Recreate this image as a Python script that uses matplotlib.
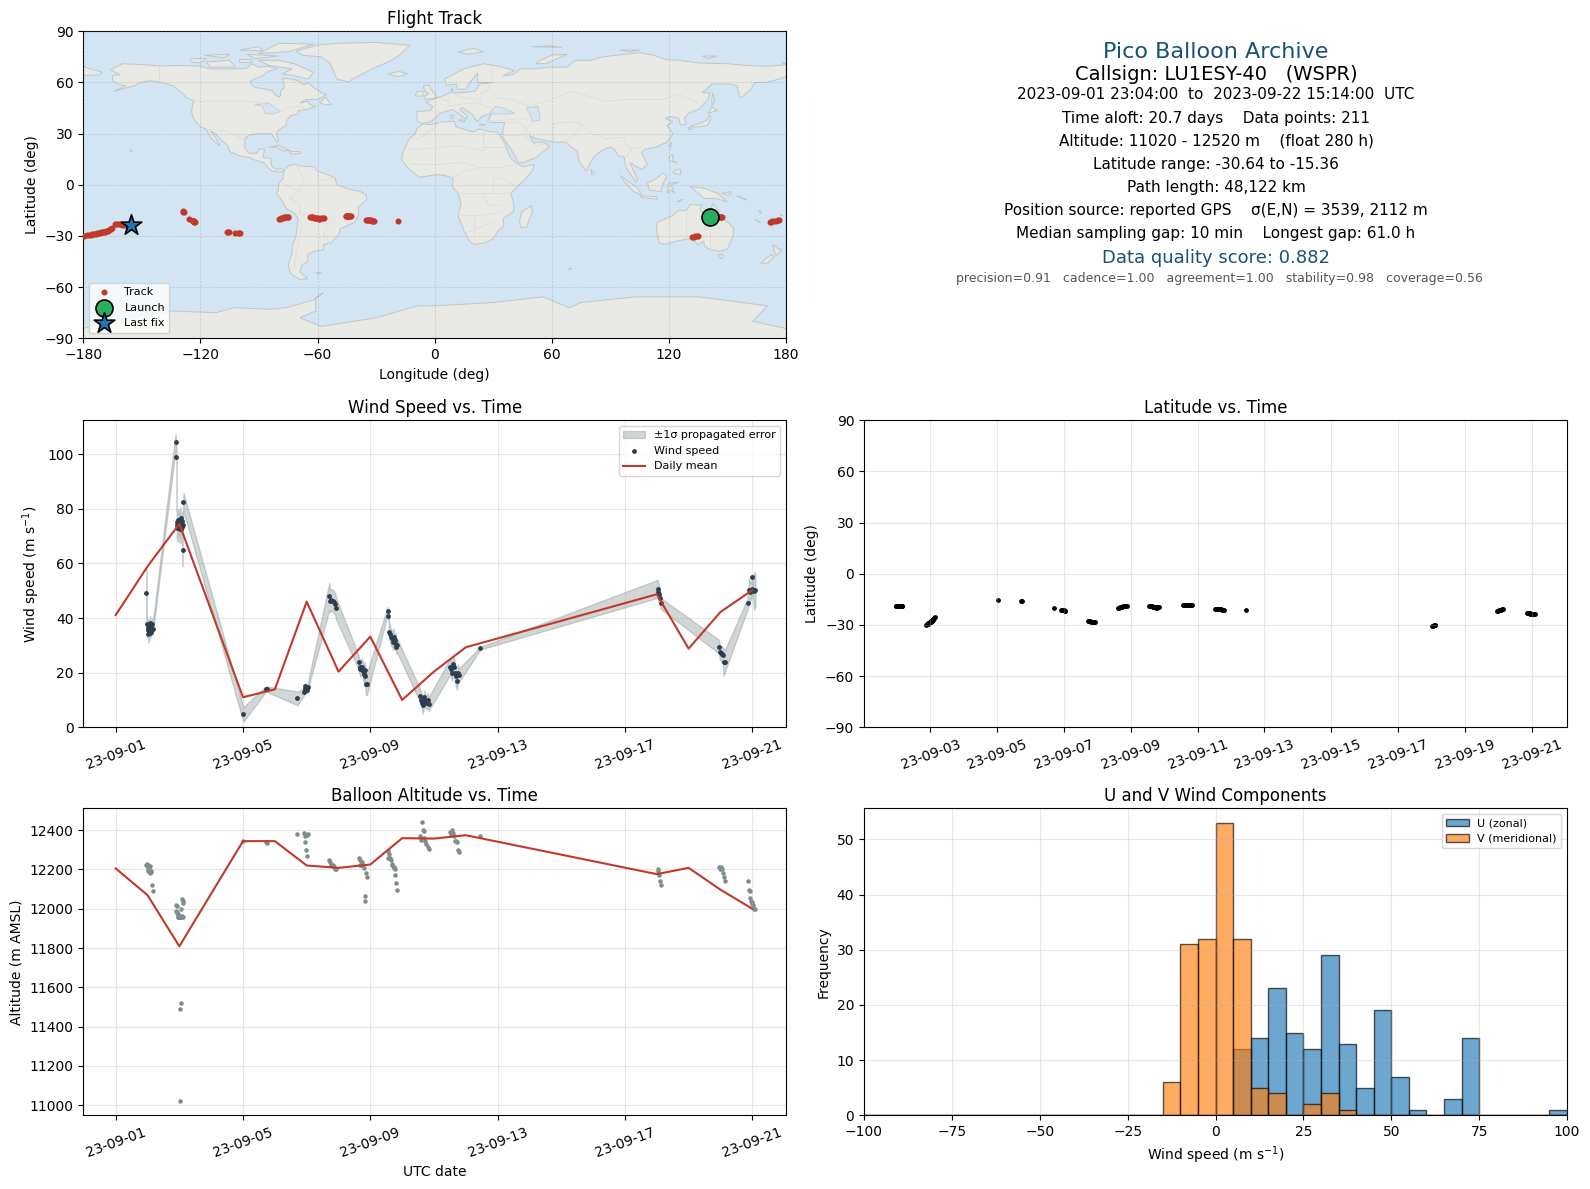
from datetime import datetime

import matplotlib
matplotlib.use('Agg')
import matplotlib.dates as mdates
import numpy as np
from matplotlib import pyplot as plt

# fixes, one line per burst of reports (days since 2023-09-01 00:00 UTC)
fix_days = [
    0.96, 0.98, 1.00, 1.01, 1.02, 1.03, 1.05, 1.06, 1.07, 1.08, 1.10, 1.12, 1.15, 1.16,
    1.88, 1.91, 1.92, 1.93, 1.94, 1.95, 1.96, 1.97, 1.98, 1.99, 2.00, 2.01, 2.02, 2.02, 2.03, 2.04, 2.04, 2.05, 2.06, 2.07, 2.09, 2.10, 2.11, 2.13,
    4.01,
    4.71, 4.74,
    5.71,
    5.92, 5.94, 5.96, 5.98, 6.00, 6.02, 6.03,
    6.71, 6.74, 6.78, 6.82, 6.86, 6.90, 6.92,
    7.63, 7.66, 7.69, 7.71, 7.74, 7.77, 7.80, 7.82, 7.82, 7.86, 7.89,
    8.54, 8.57, 8.60, 8.62, 8.65, 8.67, 8.69, 8.71, 8.73, 8.75, 8.77, 8.79, 8.82, 8.84,
    9.57, 9.60, 9.62, 9.65, 9.68, 9.70, 9.72, 9.76, 9.80, 9.83,
    10.51, 10.54, 10.57, 10.60, 10.63, 10.66, 10.69, 10.72, 10.75, 10.78,
    11.46,
    17.03, 17.05, 17.07, 17.10, 17.12,
    18.96, 18.98, 19.01, 19.04, 19.07, 19.10, 19.13,
    19.86, 19.89, 19.92, 19.94, 19.96, 19.98, 20.00, 20.02, 20.06, 20.10,
]
wind_speed = [
    49.0, 38.0, 36.0, 35.5, 37.0, 34.0, 35.0, 36.5, 34.4, 38.3, 35.0, 37.0, 38.0, 36.0,
    104.5, 99.0, 74.0, 75.0, 73.0, 76.0, 73.5, 74.5, 75.0, 73.0, 76.0, 74.0, 72.5, 73.5, 75.0, 76.5, 74.0, 72.5, 73.0, 75.5, 73.5, 65.0, 74.0, 82.5,
    4.7,
    13.9, 14.0,
    10.6,
    13.0, 14.0, 15.0, 14.5, 13.5, 14.0, 14.8,
    47.9, 46.2, 46.6, 46.4, 45.7, 45.0, 43.6,
    23.8, 22.2, 21.5, 21.8, 22.2, 20.5, 19.5, 18.6, 21.0, 15.9, 15.8,
    42.5, 40.7, 35.0, 34.2, 33.0, 32.6, 32.6, 31.4, 33.0, 31.6, 30.8, 32.0, 29.3, 30.0,
    11.5, 10.0, 9.0, 8.0, 9.5, 11.0, 10.0, 9.0, 10.0, 8.5,
    22.2, 21.2, 20.0, 23.2, 22.0, 20.0, 18.6, 17.0, 20.0, 19.0,
    29.0,
    50.7, 49.7, 48.8, 47.3, 45.4,
    29.5, 27.4, 27.2, 26.7, 26.5, 23.8, 24.0,
    45.4, 50.3, 49.7, 50.3, 49.8, 50.6, 55.0, 50.2, 50.0, 50.2,
]
wind_sigma = [
    9.0, 2.5, 2.5, 2.5, 2.5, 3.0, 2.5, 2.5, 2.5, 2.5, 2.0, 2.5, 2.0, 2.0,
    3.0, 2.5, 5.0, 5.0, 5.0, 4.0, 5.0, 4.0, 4.0, 5.0, 4.0, 4.0, 5.0, 4.0, 5.0, 4.0, 4.0, 5.0, 4.0, 3.5, 5.0, 6.0, 4.0, 3.3,
    2.7,
    1.0, 1.0,
    2.5,
    1.2, 1.2, 1.2, 1.2, 1.2, 1.2, 1.2,
    5.0, 4.0, 4.0, 4.0, 4.0, 4.0, 4.0,
    2.5, 2.5, 3.0, 3.0, 3.0, 3.0, 3.0, 3.5, 3.0, 4.0, 4.0,
    1.5, 1.5, 3.0, 3.0, 3.0, 3.0, 3.0, 3.0, 3.0, 3.0, 2.5, 2.5, 2.5, 2.5,
    2.5, 2.5, 2.5, 3.0, 2.5, 2.5, 2.5, 2.5, 2.5, 2.5,
    3.0, 3.0, 3.0, 3.0, 3.0, 3.5, 3.5, 3.3, 3.0, 2.5,
    0.5,
    3.3, 3.0, 3.0, 2.5, 2.0,
    2.5, 2.5, 2.5, 3.0, 3.0, 4.9, 4.0,
    2.0, 4.0, 4.0, 3.0, 3.0, 3.0, 1.0, 3.0, 7.0, 6.0,
]
altitude = [
    12225, 12230, 12210, 12200, 12225, 12190, 12195, 12205, 12180, 12215, 12185, 12190, 12121, 12091,
    12021, 11987, 12015, 11985, 11979, 11975, 11960, 11958, 11958, 11965, 11960, 11958, 11489, 11020, 11965, 11520, 11958, 11960, 11999, 11965, 12050, 12040, 11958, 12030,
    12344,
    12340, 12335,
    12381,
    12386, 12372, 12340, 12298, 12267, 12375, 12380,
    12247, 12240, 12225, 12220, 12210, 12203, 12200,
    12259, 12247, 12225, 12220, 12236, 12225, 12208, 12067, 12038, 12182, 12162,
    12293, 12259, 12276, 12259, 12247, 12225, 12230, 12218, 12208, 12213, 12200, 12174, 12131, 12095,
    12369, 12350, 12442, 12403, 12395, 12360, 12344, 12327, 12316, 12305,
    12390, 12378, 12403, 12385, 12369, 12344, 12344, 12338, 12301, 12290,
    12369,
    12204, 12190, 12172, 12143, 12120,
    12213, 12200, 12211, 12200, 12180, 12162, 12142,
    12142, 12097, 12088, 12055, 12040, 12032, 12025, 12018, 12000, 11998,
]
latitude = [
    -18.8, -18.8, -18.7, -18.8, -18.9, -18.8, -18.8, -18.7, -18.8, -18.9, -18.8, -18.8, -18.7, -18.8,
    -29.8, -29.5, -29.3, -29.2, -29.0, -28.9, -28.7, -28.6, -28.4, -28.3, -28.1, -28.0, -27.9, -27.8, -27.7, -27.5, -27.4, -27.2, -27.0, -26.8, -26.4, -26.1, -25.8, -25.3,
    -15.3,
    -15.7, -16.0,
    -20.0,
    -21.0, -21.2, -21.3, -21.4, -21.5, -21.6, -21.7,
    -27.6, -27.6, -27.9, -28.1, -28.2, -28.4, -28.4,
    -20.0, -19.8, -19.7, -19.6, -19.3, -19.1, -19.0, -18.9, -18.8, -18.7, -18.6,
    -18.6, -18.7, -18.9, -19.1, -19.2, -19.4, -19.5, -19.6, -19.7, -19.8, -19.8, -19.7, -19.6, -19.4,
    -18.2, -18.3, -18.2, -18.1, -18.2, -18.2, -18.1, -18.2, -18.2, -18.3,
    -20.5, -20.5, -20.6, -20.6, -20.5, -20.7, -20.9, -21.1, -21.3, -21.3,
    -21.1,
    -30.5, -30.4, -30.2, -30.0, -29.9,
    -21.7, -21.6, -21.4, -21.2, -21.0, -20.7, -20.5,
    -22.7, -22.8, -23.0, -23.1, -23.3, -23.4, -23.5, -23.5, -23.5, -23.7,
]
longitude = [
    141.0, 141.5, 142.0, 142.5, 143.0, 143.5, 144.0, 144.5, 145.0, 145.5, 146.0, 146.5, 146.8, 147.0,
    -179.5, -178.0, -177.0, -176.0, -175.5, -175.0, -174.0, -173.5, -173.0, -172.5, -172.0, -171.5, -171.0, -170.5, -170.0, -169.5, -169.0, -168.5, -168.0, -167.5, -167.0, -166.5, -166.0, -165.5,
    -129.0,
    -128.8, -128.5,
    -125.6,
    -124.0, -123.9, -123.8, -123.6, -123.4, -123.2, -123.0,
    -106.5, -106.0, -105.5, -102.5, -100.5, -100.0, -99.5,
    -79.5, -79.0, -78.5, -78.0, -77.5, -77.0, -76.5, -76.0, -75.5, -75.2, -75.0,
    -64.0, -63.5, -63.0, -62.5, -62.0, -61.5, -61.0, -60.5, -60.0, -59.5, -59.0, -58.0, -57.0, -56.6,
    -45.5, -45.2, -45.0, -44.7, -44.5, -44.2, -44.0, -43.7, -43.4, -43.0,
    -35.0, -34.6, -34.2, -33.8, -33.4, -33.0, -32.5, -32.0, -31.5, -31.0,
    -19.0,
    132.0, 132.7, 133.4, 134.2, 135.0,
    171.7, 172.2, 173.0, 174.0, 175.0, 175.8, 176.5,
    -164.0, -163.0, -162.0, -161.0, -160.0, -159.0, -158.0, -157.0, -156.2, -155.7,
]

# daily means
mean_days = [0, 1, 2, 4, 5, 6, 7, 8, 9, 10, 11, 17, 18, 19, 20]
mean_wind = [41.1, 58.9, 74.5, 11.0, 13.9, 46.0, 20.4, 33.2, 10.0, 20.4, 29.3, 48.7, 28.8, 42.2, 50.2]
mean_alt = [12205, 12069, 11809, 12344, 12344, 12220, 12208, 12225, 12359, 12357, 12374, 12176, 12208, 12097, 12000]

# histogram counts, 5 m/s bins
hist_edges = list(range(-100, 105, 5))
u_counts = [0] * 21 + [12, 14, 23, 15, 12, 29, 13, 5, 19, 7, 1, 0, 3, 14, 0, 0, 0, 0, 1]
v_counts = [0] * 17 + [6, 31, 32, 53, 32, 5, 4, 0, 2, 4, 1] + [0] * 12

header_lines = [
    'Time aloft: 20.7 days    Data points: 211',
    'Altitude: 11020 - 12520 m    (float 280 h)',
    'Latitude range: -30.64 to -15.36',
    'Path length: 48,122 km',
    'Position source: reported GPS    \u03c3(E,N) = 3539, 2112 m',
    'Median sampling gap: 10 min    Longest gap: 61.0 h',
]

# coarse coastlines, lon/lat
land_polys = [
    # North America
    [(-166,67.5),(-160,71),(-150,70.5),(-141,69.7),(-130,70),(-120,69.5),(-115,68),(-108,68),(-100,68),(-96,68.5),(-94,71),(-90,69),(-85,69.5),(-81,68),(-86,66),(-88,64),(-94.6,60.7),(-94,59),(-92,57),(-88,56.5),(-83,55),(-82,53),(-80,51.5),(-79,52),(-79,55),(-77,57),(-77.6,60.7),(-78,62.5),(-73,62),(-70,61),(-67,58.5),(-65,60),(-62,57),(-58,54),(-55.4,52.9),(-60,50),(-66,50),(-69,48),(-65,49),(-64,47),(-61,46),(-66,44),(-70,43.5),(-70,41.5),(-74,40.5),(-76,37),(-76,35),(-80,32),(-81,30),(-80,26),(-81,25),(-82.5,28),(-84,30),(-89,30),(-94,29.5),(-97,27.5),(-97.5,22),(-95,18.5),(-91,18.5),(-90,21),(-87,21),(-88,16),(-84,15.5),(-83.5,11),(-81,9),(-79,9.5),(-77,8.5),(-78,7.5),(-80,7.5),(-83,8),(-85.5,10),(-87.5,13),(-92,14.5),(-95,16),(-100,17),(-105,19.5),(-106,23),(-109,26),(-112.5,30),(-114.7,31.5),(-112,27),(-110,23),(-112,24.5),(-115,28),(-117,32.5),(-120.5,34.5),(-122.5,37.5),(-124,40),(-124.5,43),(-124,47),(-123,49),(-127,51),(-130,54.5),(-134,58),(-140,60),(-146,61),(-151,60),(-154,58),(-164.6,54.8),(-158,58),(-162,59),(-165,61),(-165,64),(-161,64.5)],
    # South America
    [(-77,8.5),(-75,11),(-72,12),(-68,11),(-62,10.5),(-60,8),(-55,6),(-51,4),(-50,0),(-44,-2.5),(-38,-4),(-35,-6),(-35,-9),(-39,-13),(-39,-18),(-41,-22),(-45,-24),(-48.5,-26),(-49,-29),(-53,-34),(-57,-35),(-57,-38),(-62,-39),(-65,-41),(-65,-45),(-68,-47),(-69,-51),(-65,-55),(-69,-55.5),(-74,-52),(-75,-47),(-73,-40),(-73,-36),(-71,-30),(-70,-20),(-71.5,-17),(-76,-14),(-79,-8),(-81,-5),(-80,-2.5),(-80,1),(-78,3),(-77.5,6)],
    # Africa
    [(-6,35.8),(-2,35.2),(3,36.8),(10,37.3),(11,34),(15,32.5),(20,31),(23,32.8),(29,31),(32,31),(34,28),(36,24),(37.5,19),(39.5,15),(43,12),(45,10.5),(51,12),(50,8),(47,4),(42,-1.5),(39,-5),(40.5,-11),(40.5,-15.5),(35,-20),(35.5,-24),(32.5,-27),(30,-31.5),(26,-34),(20,-35),(18,-33),(15,-27),(12,-18),(13.5,-11),(12,-5),(9,-1),(9.5,4),(5,5.5),(1,6),(-4,5),(-8,4.5),(-13,9),(-17,14.7),(-16,20),(-13,27),(-10,30),(-9,33)],
    # Eurasia
    [(-9,37),(-6,36),(-2,37),(0,39),(3,42),(6,43),(9,44),(12,42),(16,38.5),(17,40),(13,44),(14,45.5),(19,41.5),(22,37),(24,40),(26,41),(29,41),(27,37),(30,36.5),(36,36.5),(35,32),(34.5,28),(35,28),(39,21),(43,13),(45,13),(52,16),(59,22.5),(56,25),(52,25),(51,24),(48.5,29),(52,27),(57,26),(62,25),(67,25),(70,22),(73,20),(74,14),(77.5,8),(80,13),(82,17),(87,21),(90,22),(92,21),(94,17),(97,16.5),(98,10),(100,7),(103,1.5),(104,3),(100,13),(103,11),(106,9),(109,12),(106,19),(108,21),(113,22),(119,25),(122,30),(119,35),(122,37),(118,39),(121,40),(125,39),(126,35),(129,35.5),(128,39),(130,42),(135,44),(140,50),(141,54),(137,54),(142,59),(152,59),(155,58),(156,52),(157,51),(162,56),(164,60),(170,60),(178,62.5),(181,64),(181,70.5),(170,69.5),(160,70),(150,71),(135.7,71.4),(125,73),(118.6,73.4),(112,76),(105,77.5),(86,75),(80,73),(72,73),(68,69),(60,69),(50,68),(44,68),(40,64.5),(35,64),(41,67),(33,69.5),(25,71),(15,68),(5,62),(6,58.5),(11,59),(12,56),(16,56),(18,60),(22,65.5),(22,63),(22,60),(30,60),(23,59),(21,55),(14,54),(9,54),(9,57),(8,54),(4,52),(-1,50),(-4.5,48.5),(-1,46),(-2,43.5),(-9,43)],
    # Chukotka tip
    [(-181,64),(-172,64.5),(-170,66),(-178,68.5),(-181,70.5)],
    # Greenland and the Arctic islands
    [(-70.8,78.3),(-60,82),(-48.6,83),(-30,83.5),(-12.7,81.8),(-18,76),(-23,72.4),(-32,68),(-42,62),(-44.3,60.3),(-50,62),(-53.7,71.4),(-58,75),(-68,76)],
    [(-80,73),(-72,71),(-62,66),(-65,62),(-72,64),(-78,65),(-73,68),(-85,70),(-90,73)],
    [(-117,72),(-105,73),(-102,69),(-115,69)],
    [(-90,77),(-80,83),(-62,82.5),(-75,78)],
    [(-125,74),(-117,74),(-120,71.5),(-125,72)],
    [(-96,76.5),(-80,75.5),(-92,74)],
    [(-100,74),(-94,74),(-94,72),(-100,72)],
    [(-100,79),(-90,81),(-88,78.5)],
    [(-118,76),(-105,76.5),(-108,74.5)],
    [(-24,65),(-18,66.5),(-14,65),(-18,63.5),(-22,64)],
    [(12,78),(20,80),(25,78),(17,76.5)],
    [(52,71),(57,71),(68,76.5),(60,76),(54,73)],
    [(50,81),(60,81.5),(65,80.5)],
    [(95,79),(105,79),(100,78)],
    [(137,75.5),(145,75.5),(140,74)],
    [(178,71.5),(181,71),(180,71)],
    # Europe
    [(-5,50),(1,51),(0,53.5),(-2,56),(-3,58.5),(-6,58),(-5,55),(-3,53.5),(-5,52)],
    [(-10,52),(-6,52),(-6,55),(-9,54.5)],
    [(12.5,38),(15.5,38),(15,36.7)],
    [(8.3,41),(9.6,41),(9.5,39),(8.5,39)],
    [(23,35.5),(26,35.2),(24,35)],
    # Asia and the islands
    [(142,46),(143.5,50),(142.5,54),(142,50)],
    [(131,34),(136,34),(140,35),(141.5,39),(141,41),(139.5,38),(136,36),(132,35)],
    [(140,42),(145,43.5),(142,45.5)],
    [(130,32),(132,33),(130,33.5)],
    [(120,23),(121.5,25),(121,22)],
    [(120,16),(122,18),(122,14),(124,13),(120.5,14)],
    [(122,7),(126,6),(126,9),(123,8.5)],
    [(80,9),(82,7),(80.5,6)],
    [(95,5.5),(104,-2),(106,-6),(102,-4),(97,2)],
    [(105.5,-6.5),(114,-7),(114,-8.5),(106,-7.5)],
    [(109,1),(114,4),(117,7),(119,5),(117,1),(116,-4),(110,-3)],
    [(119,-5),(120,1),(125,1.5),(121,0),(123,-5),(121,-3)],
    [(131,-1),(138,-2),(145,-5),(150,-10),(144,-8),(138,-8),(134,-4)],
    [(124,-10),(127,-8.5),(125,-9.8)],
    [(147,-5),(152,-4),(151,-6)],
    [(155,-6.5),(160,-9),(158,-8)],
    [(166,-15),(167.5,-16),(167,-17)],
    # Australia and neighbours
    [(114,-22),(113.5,-26),(115,-34),(118,-35),(124,-33),(131,-31.5),(135,-35),(138,-33),(138,-35.5),(141,-38),(146,-39),(150,-37.5),(153,-30),(153,-25),(149,-21),(146,-19),(145.5,-15),(142.5,-11),(141,-16),(139,-17.5),(136,-15),(137,-12),(131,-11.5),(129,-15),(125,-15),(122,-18),(117,-20.5)],
    [(145,-41),(148,-41),(147,-43.5)],
    [(173,-35),(176,-37.5),(178,-38),(175,-41.5),(174,-39)],
    [(172.5,-41),(174,-42),(170.5,-46),(167,-46),(170,-43)],
    [(164,-20),(167,-22),(166,-22)],
    [(177,-17.5),(178.5,-18),(177.5,-18.3)],
    [(49.5,-12),(50,-16),(47,-25),(44,-25),(43.5,-21),(44.5,-16)],
    [(68.7,-49),(70.2,-49),(69.5,-49.7)],
    # Caribbean and small ones
    [(-85,22),(-80,23),(-74,20),(-78,20),(-81,22)],
    [(-74,19.5),(-69,19.5),(-69,18.3),(-74,18)],
    [(-59,48),(-56,51.5),(-53,47),(-56,47)],
    [(-156,21),(-155,20),(-156,19)],
    [(-61,-51.5),(-58,-51.5),(-59,-52.3)],
    # Antarctica
    [(-181,-84.5),(-158,-78),(-134,-74),(-112,-75),(-103,-72),(-85,-73),(-76,-72),(-62,-67.5),(-57,-63.4),(-61,-66),(-61,-74),(-69,-78),(-58,-83),(-30,-78),(-9,-71),(-0.8,-71),(30,-69),(55.4,-65.7),(69,-72),(75,-69),(103,-65.7),(135.6,-65.7),(170.6,-71),(163,-80),(181,-84.5),(181,-91),(-181,-91)],
]
water_polys = [
    [(28,41.5),(31,46),(35,45),(41,42),(36,41.5)],
    [(47,45),(53,46),(54,38),(50,37),(49,41)],
    [(-92,47),(-85,48),(-79,43),(-83,41.5),(-87,42),(-88,46)],
]
border_lines = [
    [(-123,49),(-95,49),(-89,48),(-83,46),(-79,43),(-75,45),(-70,46),(-67,45)],
    [(-141,69.7),(-141,60)],
    [(-117,32.5),(-106,31.5),(-97,26)],
    [(-71,12),(-67,2),(-70,-4),(-74,-8),(-69,-11),(-69,-17),(-58,-20),(-55,-25),(-57,-30),(-53,-34)],
    [(-70,-20),(-68,-24),(-71,-40),(-72,-50)],
    [(-78,1),(-70,-4)],
    [(-60,8),(-60,2),(-51,4)],
    [(-13,27),(-8,27),(-2,32),(3,37)],
    [(-17,21),(-6,21),(12,23),(25,20),(25,31)],
    [(25,22),(36,22)],
    [(-12,12),(2,12),(14,13),(24,10),(34,10),(42,12)],
    [(9,4),(15,8),(24,10)],
    [(12,-5),(30,-5),(40,-5)],
    [(12,-18),(24,-18),(34,-16)],
    [(20,-29),(20,-18)],
    [(30,-22),(16,-28)],
    [(24,-5),(28,-12),(34,-12)],
    [(30,-5),(30,4),(34,4),(42,-1)],
    [(-2,43.5),(3,42.5)],
    [(3,51),(7,49),(7,46),(13,47),(17,48),(22,48),(29,45)],
    [(9,54),(14,51),(24,50),(24,54),(28,56),(28,60)],
    [(30,60),(29,69)],
    [(30,51),(40,50),(48,46)],
    [(27,37),(44,39),(48,38)],
    [(36,36.5),(42,37),(46,34),(48.5,30)],
    [(35,29),(46,29),(52,23),(56,24)],
    [(61,25),(61,36),(72,37),(75,36)],
    [(48,46),(60,50),(70,55),(87,49),(98,50),(117,50),(125,53),(135,48)],
    [(67,25),(72,30),(75,36),(80,30),(88,27),(97,28),(98,24),(101,21),(106,22)],
    [(98,16),(101,21)],
    [(129,-15),(129,-31.5)],
    [(138,-16),(138,-26),(141,-26),(141,-38)],
]

start = mdates.date2num(datetime(2023, 9, 1))
fix_t = start + np.array(fix_days)
mean_t = start + np.array(mean_days)
wind = np.array(wind_speed)
sigma = np.array(wind_sigma)


def place(left, top, right, bottom):
    return fig.add_axes([left / W, 1 - bottom / H, (right - left) / W, (bottom - top) / H])


def date_axis(ax, tick_days, lim):
    ax.set_xticks(start + np.array(tick_days))
    ax.xaxis.set_major_formatter(mdates.DateFormatter('%y-%m-%d'))
    ax.tick_params(axis='x', rotation=20)
    ax.set_xlim(start + lim[0], start + lim[1])


W, H = 1590, 1189
fig = plt.figure(figsize=(W / 100, H / 100), dpi=100)

L1, R1 = 83.3, 786.0
L2, R2 = 864.0, 1567.0
PAD = 5

# map
ax = place(L1, 31.3, R1, 338.3)
ax.set_facecolor('#d3e5f2')
for poly in land_polys:
    xs, ys = zip(*poly)
    ax.fill(xs, ys, facecolor='#e8e8e4', edgecolor='#c1c7c9', linewidth=0.7, zorder=1)
for poly in water_polys:
    xs, ys = zip(*poly)
    ax.fill(xs, ys, facecolor='#d3e5f2', edgecolor='#c1c7c9', linewidth=0.5, zorder=1.1)
for line in border_lines:
    xs, ys = zip(*line)
    ax.plot(xs, ys, color='#dcdddb', linewidth=0.6, zorder=1.2)
ax.scatter(longitude, latitude, s=11, color='#c0392b', zorder=4, label='Track')
ax.scatter(longitude[0], latitude[0], s=150, color='#27ae60', edgecolor='black', linewidth=1.2, zorder=5, label='Launch')
ax.scatter(longitude[-1], latitude[-1], s=240, marker='*', color='#1f77b4', edgecolor='black', linewidth=1.2, zorder=5, label='Last fix')
ax.set_xlim(-180, 180)
ax.set_ylim(-90, 90)
ax.set_xticks(np.arange(-180, 181, 60))
ax.set_yticks(np.arange(-90, 91, 30))
ax.grid(alpha=0.3, linewidth=0.5, linestyle='--', color='#808080', zorder=2)
ax.set_axisbelow(False)
ax.set_xlabel('Longitude (deg)')
ax.set_ylabel('Latitude (deg)')
ax.set_title('Flight Track', pad=PAD)
ax.legend(loc='lower left', fontsize=8)

# header block
fig.text(1216, 52, 'Pico Balloon Archive', ha='center', va='center', fontsize=16, color='#1a5276')
fig.text(1216, 74.5, 'Callsign: LU1ESY-40   (WSPR)', ha='center', va='center', fontsize=14)
fig.text(1216, 94.5, '2023-09-01 23:04:00  to  2023-09-22 15:14:00  UTC', ha='center', va='center', fontsize=11)
for i, line in enumerate(header_lines):
    fig.text(1216, 118 + i * 23.1, line, ha='center', va='center', fontsize=11)
fig.text(1216, 258, 'Data quality score: 0.882', ha='center', va='center', fontsize=13, color='#1a5276')
fig.text(1219, 279, 'precision=0.91   cadence=1.00   agreement=1.00   stability=0.98   coverage=0.56',
         ha='center', va='center', fontsize=9, color='#555555')
for t in fig.texts:
    x, y = t.get_position()
    t.set_position((x / W, 1 - y / H))

# wind speed
ax = place(L1, 420.3, R1, 727.3)
ax.fill_between(fix_t, wind - sigma, wind + sigma, color='#7f8c8d', alpha=0.35, label='\u00b11\u03c3 propagated error')
ax.scatter(fix_t, wind, s=6, color='#2c3e50', label='Wind speed', zorder=3)
ax.plot(mean_t, mean_wind, color='#c0392b', linewidth=1.5, label='Daily mean', zorder=4)
date_axis(ax, [0, 4, 8, 12, 16, 20], (-1.018, 21.06))
ax.set_ylim(0, 112.4)
ax.grid(alpha=0.3)
ax.set_ylabel('Wind speed (m s$^{-1}$)')
ax.set_title('Wind Speed vs. Time', pad=PAD)
ax.legend(loc='upper right', fontsize=8)

# latitude
ax = place(L2, 420.3, R2, 727.3)
ax.scatter(fix_t, latitude, s=6, color='black')
date_axis(ax, [2, 4, 6, 8, 10, 12, 14, 16, 18, 20], (0.01, 21.06))
ax.set_ylim(-90, 90)
ax.set_yticks(np.arange(-90, 91, 30))
ax.grid(alpha=0.3)
ax.set_ylabel('Latitude (deg)')
ax.set_title('Latitude vs. Time', pad=PAD)

# altitude
ax = place(L1, 808.3, R1, 1115.3)
ax.scatter(fix_t, altitude, s=5, color='#7f8c8d')
ax.plot(mean_t, mean_alt, color='#c0392b', linewidth=1.5)
date_axis(ax, [0, 4, 8, 12, 16, 20], (-1.018, 21.06))
ax.set_ylim(10949, 12511)
ax.grid(alpha=0.3)
ax.set_xlabel('UTC date')
ax.set_ylabel('Altitude (m AMSL)')
ax.set_title('Balloon Altitude vs. Time', pad=PAD)

# wind components
ax = place(L2, 808.3, R2, 1115.3)
centers = np.array(hist_edges[:-1]) + 2.5
ax.hist(centers, bins=hist_edges, weights=u_counts, alpha=0.65, color='#1f77b4', edgecolor='black', label='U (zonal)')
ax.hist(centers, bins=hist_edges, weights=v_counts, alpha=0.65, color='#ff7f0e', edgecolor='black', label='V (meridional)')
ax.set_xlim(-100, 100)
ax.set_ylim(0, 55.65)
ax.grid(alpha=0.3)
ax.set_xlabel('Wind speed (m s$^{-1}$)')
ax.set_ylabel('Frequency')
ax.set_title('U and V Wind Components', pad=PAD)
ax.legend(loc='upper right', fontsize=8)

fig.savefig('out.png', dpi=100)
